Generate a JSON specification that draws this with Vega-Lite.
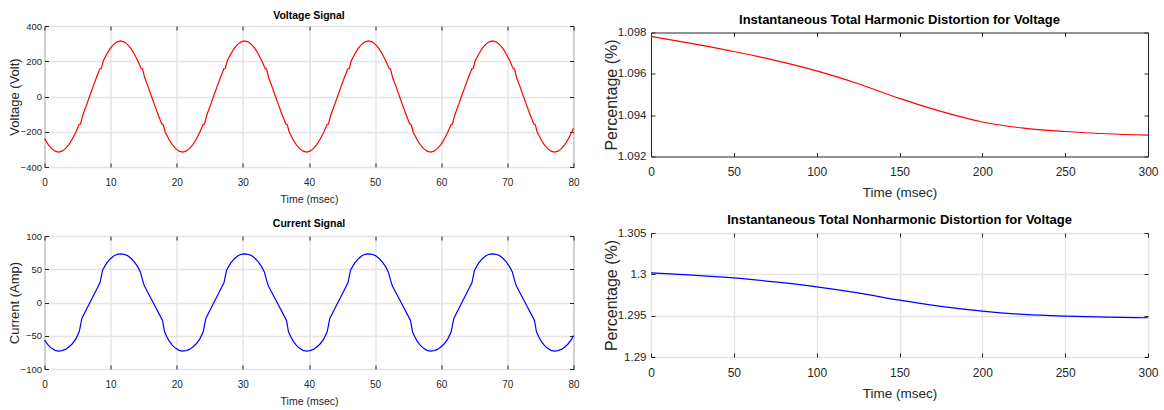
{
  "$schema": "https://vega.github.io/schema/vega-lite/v6.json",
  "background": "white",
  "padding": {"left": 7.5, "top": 0, "right": 5, "bottom": 5},
  "config": {
    "view": {"stroke": "#262626", "strokeWidth": 1},
    "axis": {
      "domain": false,
      "grid": true,
      "gridColor": "#e4e4e4",
      "gridWidth": 1.5,
      "tickSize": -4,
      "tickColor": "#262626",
      "labelColor": "#262626",
      "titleColor": "#262626",
      "titleFontWeight": "normal",
      "labelFont": "Liberation Sans",
      "titleFont": "Liberation Sans",
      "labelFlush": false
    },
    "title": {"font": "Liberation Sans", "fontWeight": "bold", "color": "#000000", "anchor": "middle"}
  },
  "datasets": {
    "spacer": [{"a": 0}],
    "volt": [
      {"t":0,"v":-238.6},{"t":0.563,"v":-272.8},{"t":1.083,"v":-296},{"t":1.604,"v":-310.2},{"t":2.125,"v":-315},
      {"t":2.646,"v":-310.2},{"t":3.167,"v":-296},{"t":3.687,"v":-272.8},{"t":4.208,"v":-241.3},{"t":4.729,"v":-202.5},{"t":5.25,"v":-157.5},{"t":5.45,"v":-157.5},{"t":5.771,"v":-107.7},{"t":6.292,"v":-54.7},{"t":6.812,"v":0},{"t":7.333,"v":54.7},{"t":7.854,"v":107.7},{"t":8.375,"v":157.5},{"t":8.575,"v":157.5},{"t":8.896,"v":202.5},{"t":9.417,"v":241.3},{"t":9.937,"v":272.8},{"t":10.458,"v":296},{"t":10.979,"v":310.2},{"t":11.5,"v":315},{"t":12.021,"v":310.2},{"t":12.542,"v":296},{"t":13.063,"v":272.8},{"t":13.583,"v":241.3},{"t":14.104,"v":202.5},{"t":14.625,"v":157.5},{"t":14.825,"v":157.5},{"t":15.146,"v":107.7},{"t":15.667,"v":54.7},{"t":16.188,"v":0},{"t":16.708,"v":-54.7},{"t":17.229,"v":-107.7},{"t":17.75,"v":-157.5},{"t":17.95,"v":-157.5},{"t":18.271,"v":-202.5},{"t":18.792,"v":-241.3},{"t":19.313,"v":-272.8},{"t":19.833,"v":-296},{"t":20.354,"v":-310.2},{"t":20.875,"v":-315},
      {"t":21.396,"v":-310.2},{"t":21.917,"v":-296},{"t":22.437,"v":-272.8},{"t":22.958,"v":-241.3},{"t":23.479,"v":-202.5},{"t":24.0,"v":-157.5},{"t":24.2,"v":-157.5},{"t":24.521,"v":-107.7},{"t":25.042,"v":-54.7},{"t":25.562,"v":0},{"t":26.083,"v":54.7},{"t":26.604,"v":107.7},{"t":27.125,"v":157.5},{"t":27.325,"v":157.5},{"t":27.646,"v":202.5},{"t":28.167,"v":241.3},{"t":28.687,"v":272.8},{"t":29.208,"v":296},{"t":29.729,"v":310.2},{"t":30.25,"v":315},{"t":30.771,"v":310.2},{"t":31.292,"v":296},{"t":31.813,"v":272.8},{"t":32.333,"v":241.3},{"t":32.854,"v":202.5},{"t":33.375,"v":157.5},{"t":33.575,"v":157.5},{"t":33.896,"v":107.7},{"t":34.417,"v":54.7},{"t":34.938,"v":0},{"t":35.458,"v":-54.7},{"t":35.979,"v":-107.7},{"t":36.5,"v":-157.5},{"t":36.7,"v":-157.5},{"t":37.021,"v":-202.5},{"t":37.542,"v":-241.3},{"t":38.063,"v":-272.8},{"t":38.583,"v":-296},{"t":39.104,"v":-310.2},{"t":39.625,"v":-315},
      {"t":40.146,"v":-310.2},{"t":40.667,"v":-296},{"t":41.187,"v":-272.8},{"t":41.708,"v":-241.3},{"t":42.229,"v":-202.5},{"t":42.75,"v":-157.5},{"t":42.95,"v":-157.5},{"t":43.271,"v":-107.7},{"t":43.792,"v":-54.7},{"t":44.312,"v":0},{"t":44.833,"v":54.7},{"t":45.354,"v":107.7},{"t":45.875,"v":157.5},{"t":46.075,"v":157.5},{"t":46.396,"v":202.5},{"t":46.917,"v":241.3},{"t":47.437,"v":272.8},{"t":47.958,"v":296},{"t":48.479,"v":310.2},{"t":49.0,"v":315},{"t":49.521,"v":310.2},{"t":50.042,"v":296},{"t":50.563,"v":272.8},{"t":51.083,"v":241.3},{"t":51.604,"v":202.5},{"t":52.125,"v":157.5},{"t":52.325,"v":157.5},{"t":52.646,"v":107.7},{"t":53.167,"v":54.7},{"t":53.688,"v":0},{"t":54.208,"v":-54.7},{"t":54.729,"v":-107.7},{"t":55.25,"v":-157.5},{"t":55.45,"v":-157.5},{"t":55.771,"v":-202.5},{"t":56.292,"v":-241.3},{"t":56.813,"v":-272.8},{"t":57.333,"v":-296},{"t":57.854,"v":-310.2},{"t":58.375,"v":-315},
      {"t":58.896,"v":-310.2},{"t":59.417,"v":-296},{"t":59.937,"v":-272.8},{"t":60.458,"v":-241.3},{"t":60.979,"v":-202.5},{"t":61.5,"v":-157.5},{"t":61.7,"v":-157.5},{"t":62.021,"v":-107.7},{"t":62.542,"v":-54.7},{"t":63.062,"v":0},{"t":63.583,"v":54.7},{"t":64.104,"v":107.7},{"t":64.625,"v":157.5},{"t":64.825,"v":157.5},{"t":65.146,"v":202.5},{"t":65.667,"v":241.3},{"t":66.187,"v":272.8},{"t":66.708,"v":296},{"t":67.229,"v":310.2},{"t":67.75,"v":315},{"t":68.271,"v":310.2},{"t":68.792,"v":296},{"t":69.313,"v":272.8},{"t":69.833,"v":241.3},{"t":70.354,"v":202.5},{"t":70.875,"v":157.5},{"t":71.075,"v":157.5},{"t":71.396,"v":107.7},{"t":71.917,"v":54.7},{"t":72.438,"v":0},{"t":72.958,"v":-54.7},{"t":73.479,"v":-107.7},{"t":74.0,"v":-157.5},{"t":74.2,"v":-157.5},{"t":74.521,"v":-202.5},{"t":75.042,"v":-241.3},{"t":75.563,"v":-272.8},{"t":76.083,"v":-296},{"t":76.604,"v":-310.2},{"t":77.125,"v":-315},
      {"t":77.646,"v":-310.2},{"t":78.167,"v":-296},{"t":78.687,"v":-272.8},{"t":79.208,"v":-241.3},{"t":79.729,"v":-202.5},{"t":80,"v":-180}
    ],
    "curr": [
      {"t":0,"i":-56.5},{"t":0.563,"i":-64},{"t":1.083,"i":-69},{"t":1.604,"i":-72},{"t":2.125,"i":-73},
      {"t":2.646,"i":-72.3},{"t":3.167,"i":-70.5},{"t":3.687,"i":-67},{"t":4.208,"i":-62},{"t":4.729,"i":-55},{"t":5.25,"i":-44},{"t":5.65,"i":-24},{"t":6.292,"i":-11.4},{"t":6.812,"i":-1.2},{"t":7.333,"i":9},{"t":7.854,"i":19.2},{"t":8.4,"i":30},{"t":8.78,"i":48.5},{"t":9.417,"i":59.5},{"t":9.937,"i":65.5},{"t":10.458,"i":70},{"t":10.979,"i":72.5},{"t":11.5,"i":73},{"t":12.021,"i":72.5},{"t":12.542,"i":70.5},{"t":13.063,"i":66.5},{"t":13.583,"i":61},{"t":14.104,"i":53.5},{"t":14.5,"i":46},{"t":14.85,"i":33},{"t":15.1,"i":25},{"t":15.667,"i":14.3},{"t":16.188,"i":4.4},{"t":16.708,"i":-5.4},{"t":17.229,"i":-15.2},{"t":17.85,"i":-27},{"t":18.15,"i":-44},{"t":18.5,"i":-51.5},{"t":18.792,"i":-57},{"t":19.313,"i":-64},{"t":19.833,"i":-69},{"t":20.354,"i":-72},{"t":20.875,"i":-73},
      {"t":21.396,"i":-72.3},{"t":21.917,"i":-70.5},{"t":22.437,"i":-67},{"t":22.958,"i":-62},{"t":23.479,"i":-55},{"t":24.0,"i":-44},{"t":24.4,"i":-24},{"t":25.042,"i":-11.4},{"t":25.562,"i":-1.2},{"t":26.083,"i":9},{"t":26.604,"i":19.2},{"t":27.15,"i":30},{"t":27.53,"i":48.5},{"t":28.167,"i":59.5},{"t":28.687,"i":65.5},{"t":29.208,"i":70},{"t":29.729,"i":72.5},{"t":30.25,"i":73},{"t":30.771,"i":72.5},{"t":31.292,"i":70.5},{"t":31.813,"i":66.5},{"t":32.333,"i":61},{"t":32.854,"i":53.5},{"t":33.25,"i":46},{"t":33.6,"i":33},{"t":33.85,"i":25},{"t":34.417,"i":14.3},{"t":34.938,"i":4.4},{"t":35.458,"i":-5.4},{"t":35.979,"i":-15.2},{"t":36.6,"i":-27},{"t":36.9,"i":-44},{"t":37.25,"i":-51.5},{"t":37.542,"i":-57},{"t":38.063,"i":-64},{"t":38.583,"i":-69},{"t":39.104,"i":-72},{"t":39.625,"i":-73},
      {"t":40.146,"i":-72.3},{"t":40.667,"i":-70.5},{"t":41.187,"i":-67},{"t":41.708,"i":-62},{"t":42.229,"i":-55},{"t":42.75,"i":-44},{"t":43.15,"i":-24},{"t":43.792,"i":-11.4},{"t":44.312,"i":-1.2},{"t":44.833,"i":9},{"t":45.354,"i":19.2},{"t":45.9,"i":30},{"t":46.28,"i":48.5},{"t":46.917,"i":59.5},{"t":47.437,"i":65.5},{"t":47.958,"i":70},{"t":48.479,"i":72.5},{"t":49.0,"i":73},{"t":49.521,"i":72.5},{"t":50.042,"i":70.5},{"t":50.563,"i":66.5},{"t":51.083,"i":61},{"t":51.604,"i":53.5},{"t":52.0,"i":46},{"t":52.35,"i":33},{"t":52.6,"i":25},{"t":53.167,"i":14.3},{"t":53.688,"i":4.4},{"t":54.208,"i":-5.4},{"t":54.729,"i":-15.2},{"t":55.35,"i":-27},{"t":55.65,"i":-44},{"t":56.0,"i":-51.5},{"t":56.292,"i":-57},{"t":56.813,"i":-64},{"t":57.333,"i":-69},{"t":57.854,"i":-72},{"t":58.375,"i":-73},
      {"t":58.896,"i":-72.3},{"t":59.417,"i":-70.5},{"t":59.937,"i":-67},{"t":60.458,"i":-62},{"t":60.979,"i":-55},{"t":61.5,"i":-44},{"t":61.9,"i":-24},{"t":62.542,"i":-11.4},{"t":63.062,"i":-1.2},{"t":63.583,"i":9},{"t":64.104,"i":19.2},{"t":64.65,"i":30},{"t":65.03,"i":48.5},{"t":65.667,"i":59.5},{"t":66.187,"i":65.5},{"t":66.708,"i":70},{"t":67.229,"i":72.5},{"t":67.75,"i":73},{"t":68.271,"i":72.5},{"t":68.792,"i":70.5},{"t":69.313,"i":66.5},{"t":69.833,"i":61},{"t":70.354,"i":53.5},{"t":70.75,"i":46},{"t":71.1,"i":33},{"t":71.35,"i":25},{"t":71.917,"i":14.3},{"t":72.438,"i":4.4},{"t":72.958,"i":-5.4},{"t":73.479,"i":-15.2},{"t":74.1,"i":-27},{"t":74.4,"i":-44},{"t":74.75,"i":-51.5},{"t":75.042,"i":-57},{"t":75.563,"i":-64},{"t":76.083,"i":-69},{"t":76.604,"i":-72},{"t":77.125,"i":-73},
      {"t":77.646,"i":-72.3},{"t":78.167,"i":-70.5},{"t":78.687,"i":-67},{"t":79.208,"i":-62},{"t":79.729,"i":-55},{"t":80,"i":-49.5}
    ],
    "thd": [
      {"t":0,"p":1.09781},{"t":25,"p":1.09746},{"t":50,"p":1.09708},{"t":75,"p":1.09665},{"t":100,"p":1.09614},{"t":125,"p":1.09552},{"t":150,"p":1.09481},{"t":175,"p":1.09418},{"t":200,"p":1.09367},{"t":225,"p":1.09337},{"t":250,"p":1.09321},{"t":275,"p":1.0931},{"t":300,"p":1.09303}
    ],
    "tnhd": [
      {"t":0,"p":1.30018},{"t":25,"p":1.2999},{"t":50,"p":1.29957},{"t":75,"p":1.29908},{"t":100,"p":1.29849},{"t":125,"p":1.29775},{"t":150,"p":1.29687},{"t":175,"p":1.29612},{"t":200,"p":1.29555},{"t":225,"p":1.29515},{"t":250,"p":1.29494},{"t":275,"p":1.29482},{"t":300,"p":1.29475}
    ]
  },
  "spacing": 22.5,
  "align": "none",
  "hconcat": [
    {
      "spacing": 9,
      "vconcat": [
        {
          "width": 529, "height": 1,
          "view": {"stroke": null},
          "data": {"name": "spacer"},
          "mark": {"type": "point", "size": 0, "opacity": 0},
          "encoding": {}
        },
        {
          "width": 529, "height": 141,
          "title": {"text": "Voltage Signal", "fontSize": 10.5, "offset": 0},
          "data": {"name": "volt"},
          "layer": [
            {
              "mark": {"type": "line", "color": "#ff0000", "strokeWidth": 1.2},
              "encoding": {
                "x": {"field": "t", "type": "quantitative", "scale": {"domain": [0, 80], "nice": false, "zero": false},
                      "axis": {"values": [0,10,20,30,40,50,60,70,80], "title": "Time (msec)", "labelFontSize": 10, "titleFontSize": 10.5, "labelPadding": 14, "titlePadding": 7}},
                "y": {"field": "v", "type": "quantitative", "scale": {"domain": [-400, 400], "nice": false},
                      "axis": {"values": [-400,-200,0,200,400], "title": "Voltage (Volt)", "labelFontSize": 9.5, "titleFontSize": 13, "labelPadding": 7, "titlePadding": -1.5}}
              }
            },
            {
              "mark": {"type": "line", "opacity": 0},
              "encoding": {
                "x": {"field": "t", "type": "quantitative", "axis": {"orient": "top", "values": [0,10,20,30,40,50,60,70,80], "labels": false, "title": null, "grid": false}},
                "y": {"field": "v", "type": "quantitative", "axis": {"orient": "right", "values": [-400,-200,0,200,400], "labels": false, "title": null, "grid": false}}
              }
            }
          ],
          "resolve": {"axis": {"x": "independent", "y": "independent"}}
        },
        {
          "width": 529, "height": 133,
          "title": {"text": ["", "Current Signal"], "fontSize": 10.5, "lineHeight": 4, "offset": 2},
          "data": {"name": "curr"},
          "layer": [
            {
              "mark": {"type": "line", "color": "#0000ff", "strokeWidth": 1.2},
              "encoding": {
                "x": {"field": "t", "type": "quantitative", "scale": {"domain": [0, 80], "nice": false, "zero": false},
                      "axis": {"values": [0,10,20,30,40,50,60,70,80], "title": "Time (msec)", "labelFontSize": 10, "titleFontSize": 10.5, "labelPadding": 14, "titlePadding": 7}},
                "y": {"field": "i", "type": "quantitative", "scale": {"domain": [-100, 100], "nice": false},
                      "axis": {"values": [-100,-50,0,50,100], "title": "Current (Amp)", "labelFontSize": 9.5, "titleFontSize": 13, "labelPadding": 7, "titlePadding": -1.5}}
              }
            },
            {
              "mark": {"type": "line", "opacity": 0},
              "encoding": {
                "x": {"field": "t", "type": "quantitative", "axis": {"orient": "top", "values": [0,10,20,30,40,50,60,70,80], "labels": false, "title": null, "grid": false}},
                "y": {"field": "i", "type": "quantitative", "axis": {"orient": "right", "values": [-100,-50,0,50,100], "labels": false, "title": null, "grid": false}}
              }
            }
          ],
          "resolve": {"axis": {"x": "independent", "y": "independent"}}
        }
      ]
    },
    {
      "spacing": 11.5,
      "vconcat": [
        {
          "width": 497, "height": 1,
          "view": {"stroke": null},
          "data": {"name": "spacer"},
          "mark": {"type": "point", "size": 0, "opacity": 0},
          "encoding": {}
        },
        {
          "width": 497, "height": 124,
          "title": {"text": "Instantaneous Total Harmonic Distortion for Voltage", "fontSize": 13, "offset": 0},
          "data": {"name": "thd"},
          "layer": [
            {
              "mark": {"type": "line", "color": "#ff0000", "strokeWidth": 1.2, "interpolate": "monotone"},
              "encoding": {
                "x": {"field": "t", "type": "quantitative", "scale": {"domain": [0, 300], "nice": false, "zero": false},
                      "axis": {"values": [0,50,100,150,200,250,300], "title": "Time (msec)", "grid": false, "labelFontSize": 12, "titleFontSize": 13.5, "labelPadding": 14, "titlePadding": 8}},
                "y": {"field": "p", "type": "quantitative", "scale": {"domain": [1.092, 1.098], "nice": false, "zero": false},
                      "axis": {"values": [1.092,1.094,1.096,1.098], "format": ".3f", "title": "Percentage (%)", "grid": false, "labelFontSize": 11.5, "titleFontSize": 16, "labelPadding": 9, "titlePadding": -2.5}}
              }
            },
            {
              "mark": {"type": "line", "opacity": 0},
              "encoding": {
                "x": {"field": "t", "type": "quantitative", "axis": {"orient": "top", "values": [0,50,100,150,200,250,300], "labels": false, "title": null, "grid": false}},
                "y": {"field": "p", "type": "quantitative", "axis": {"orient": "right", "values": [1.092,1.094,1.096,1.098], "labels": false, "title": null, "grid": false}}
              }
            }
          ],
          "resolve": {"axis": {"x": "independent", "y": "independent"}}
        },
        {
          "width": 497, "height": 124,
          "title": {"text": ["", "Instantaneous Total Nonharmonic Distortion for Voltage"], "fontSize": 13, "lineHeight": 2, "offset": 0},
          "data": {"name": "tnhd"},
          "layer": [
            {
              "mark": {"type": "line", "color": "#0000ff", "strokeWidth": 1.2, "interpolate": "monotone"},
              "encoding": {
                "x": {"field": "t", "type": "quantitative", "scale": {"domain": [0, 300], "nice": false, "zero": false},
                      "axis": {"values": [0,50,100,150,200,250,300], "title": "Time (msec)", "labelFontSize": 12, "titleFontSize": 13.5, "labelPadding": 14, "titlePadding": 8}},
                "y": {"field": "p", "type": "quantitative", "scale": {"domain": [1.29, 1.305], "nice": false, "zero": false},
                      "axis": {"values": [1.29,1.295,1.3,1.305], "format": ".3~f", "title": "Percentage (%)", "labelFontSize": 11.5, "titleFontSize": 16, "labelPadding": 9, "titlePadding": -2.5}}
              }
            },
            {
              "mark": {"type": "line", "opacity": 0},
              "encoding": {
                "x": {"field": "t", "type": "quantitative", "axis": {"orient": "top", "values": [0,50,100,150,200,250,300], "labels": false, "title": null, "grid": false}},
                "y": {"field": "p", "type": "quantitative", "axis": {"orient": "right", "values": [1.29,1.295,1.3,1.305], "labels": false, "title": null, "grid": false}}
              }
            }
          ],
          "resolve": {"axis": {"x": "independent", "y": "independent"}}
        }
      ]
    }
  ]
}
